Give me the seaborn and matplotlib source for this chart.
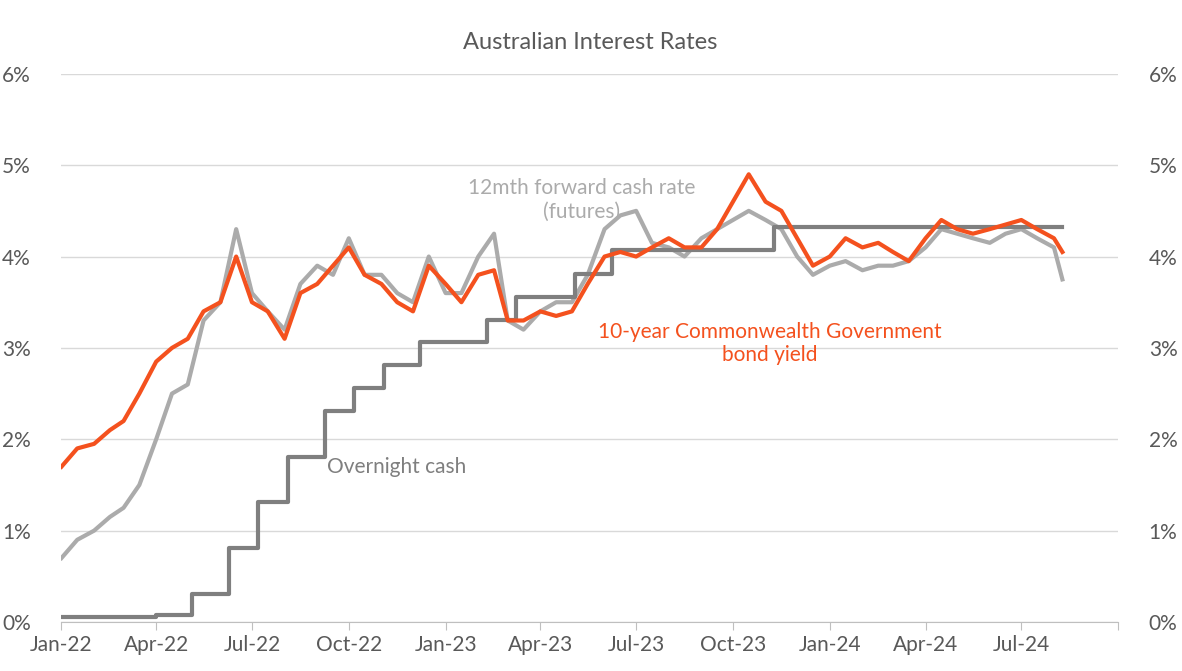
import matplotlib.pyplot as plt
import matplotlib.dates as mdates
import numpy as np
import pandas as pd
import seaborn as sns

plt.rcParams['font.family'] = 'Lato'

# semi-monthly readings (1st and 16th), Jan-22 .. Aug-24
months = pd.date_range('2022-01-01', '2024-08-01', freq='MS')
dates = []
for m in months:
    dates += [m, m + pd.Timedelta(days=15)]
dates = dates[:-1] + [pd.Timestamp('2024-08-09')]

bond_yield = [1.7, 1.9, 1.95, 2.1, 2.2, 2.5, 2.85, 3.0, 3.1, 3.4, 3.5, 4.0,
              3.5, 3.4, 3.1, 3.6, 3.7, 3.9, 4.1, 3.8, 3.7, 3.5, 3.4, 3.9,
              3.7, 3.5, 3.8, 3.85, 3.3, 3.3, 3.4, 3.35, 3.4, 3.7, 4.0, 4.05,
              4.0, 4.1, 4.2, 4.1, 4.1, 4.3, 4.6, 4.9, 4.6, 4.5, 4.2, 3.9,
              4.0, 4.2, 4.1, 4.15, 4.05, 3.95, 4.2, 4.4, 4.3, 4.25, 4.3, 4.35,
              4.4, 4.3, 4.2, 4.05]
futures = [0.7, 0.9, 1.0, 1.15, 1.25, 1.5, 2.0, 2.5, 2.6, 3.3, 3.5, 4.3,
           3.6, 3.4, 3.2, 3.7, 3.9, 3.8, 4.2, 3.8, 3.8, 3.6, 3.5, 4.0,
           3.6, 3.6, 4.0, 4.25, 3.3, 3.2, 3.4, 3.5, 3.5, 3.8, 4.3, 4.45,
           4.5, 4.15, 4.1, 4.0, 4.2, 4.3, 4.4, 4.5, 4.4, 4.3, 4.0, 3.8,
           3.9, 3.95, 3.85, 3.9, 3.9, 3.95, 4.1, 4.3, 4.25, 4.2, 4.15, 4.25,
           4.3, 4.2, 4.1, 3.75]

cash_dates = pd.to_datetime(['2022-01-01', '2022-04-01', '2022-05-05', '2022-06-09',
                             '2022-07-07', '2022-08-04', '2022-09-08', '2022-10-06',
                             '2022-11-03', '2022-12-08', '2023-02-09', '2023-03-09',
                             '2023-05-04', '2023-06-08', '2023-11-09', '2024-08-09'])
cash_rate = [0.05, 0.08, 0.31, 0.81, 1.31, 1.81, 2.31, 2.56,
             2.81, 3.06, 3.31, 3.56, 3.81, 4.07, 4.32, 4.32]

ORANGE = '#F4511E'
LIGHT = '#ABABAB'
DARK = '#7F7F7F'
TXT = '#595959'

fig, ax = plt.subplots(figsize=(11.82, 6.71), dpi=100)
df_f = pd.DataFrame({'date': dates, 'v': futures})
df_b = pd.DataFrame({'date': dates, 'v': bond_yield})
df_c = pd.DataFrame({'date': cash_dates, 'v': cash_rate})
sns.lineplot(data=df_f, x='date', y='v', ax=ax, color=LIGHT, lw=3)
sns.lineplot(data=df_c, x='date', y='v', ax=ax, color=DARK, lw=3, drawstyle='steps-post')
sns.lineplot(data=df_b, x='date', y='v', ax=ax, color=ORANGE, lw=3)

ax.set_xlim(pd.Timestamp('2022-01-01'), pd.Timestamp('2024-10-01'))
ax.set_ylim(0, 6)
ax.set_yticks(range(7))
ax.set_yticklabels([f'{i}%' for i in range(7)])
xt = pd.date_range('2022-01-01', '2024-10-01', freq='QS')
ax.set_xticks(xt)
ax.set_xticklabels([d.strftime('%b-%y') for d in xt[:-1]] + [''])
ax.grid(axis='y', color='#D9D9D9', lw=1)
ax.set_axisbelow(True)
for s in ['top', 'left', 'right']:
    ax.spines[s].set_visible(False)
ax.spines['bottom'].set_color('#BFBFBF')
ax.tick_params(axis='x', colors=TXT, labelsize=15, length=6, color='#BFBFBF')
ax.tick_params(axis='y', colors=TXT, labelsize=15, length=0, pad=22)
ax.set_xlabel('')
ax.set_ylabel('')

ax2 = ax.twinx()
ax2.set_ylim(0, 6)
ax2.set_yticks(range(7))
ax2.set_yticklabels([f'{i}%' for i in range(7)])
ax2.tick_params(axis='y', colors=TXT, labelsize=15, length=0, pad=22)
for s in ax2.spines.values():
    s.set_visible(False)

ax.text(pd.Timestamp('2023-05-10'), 4.62, '12mth forward cash rate\n(futures)',
        ha='center', va='center', color=LIGHT, fontsize=15)
ax.text(pd.Timestamp('2023-11-05'), 3.05, '10-year Commonwealth Government\nbond yield',
        ha='center', va='center', color=ORANGE, fontsize=15)
ax.text(pd.Timestamp('2022-09-10'), 1.7, 'Overnight cash',
        ha='left', va='center', color=DARK, fontsize=15)

ax.set_title('Australian Interest Rates', color=TXT, fontsize=17, pad=18)
plt.subplots_adjust(left=0.052, right=0.946, top=0.89, bottom=0.073)
fig.savefig('out.png', dpi=100)
